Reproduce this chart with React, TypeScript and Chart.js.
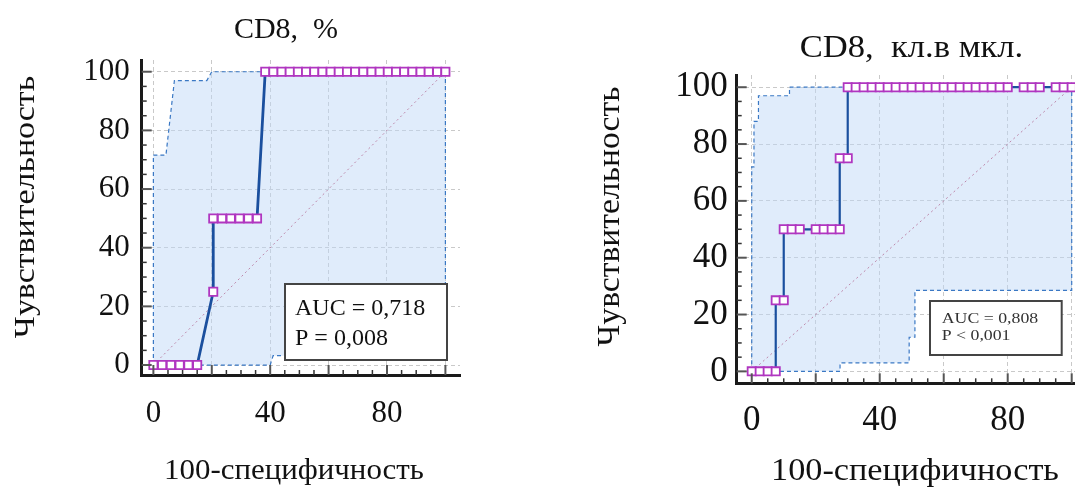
import React, { useEffect, useRef } from 'react';
import { Chart, registerables } from 'chart.js';

Chart.register(...registerables);

const FONT = "'Liberation Serif', 'Times New Roman', serif";

// Shared axis ticks
const gridValues = [0, 20, 40, 60, 80, 100];
const xLabelValues = [0, 40, 80];
const yLabelValues = [0, 20, 40, 60, 80, 100];
const diagonalX = [0, 100];
const diagonalY = [0, 100];

// ---------- Left panel: CD8, % ----------
const leftTitle = 'CD8,  %';
const leftStats = ['AUC = 0,718', 'P = 0,008'];
const leftRocX = [0, 3, 6, 9, 12, 15, 20.5, 20.5, 23.5, 26.5, 29.5, 32.5, 35.5, 38.3, 41.1, 43.9, 46.7, 49.5, 52.3, 55.1, 57.9, 60.7, 63.5, 66.3, 69.1, 71.9, 74.7, 77.5, 80.3, 83.1, 85.9, 88.7, 91.5, 94.3, 97.2, 100];
const leftRocY = [0, 0, 0, 0, 0, 0, 25, 50, 50, 50, 50, 50, 50, 100, 100, 100, 100, 100, 100, 100, 100, 100, 100, 100, 100, 100, 100, 100, 100, 100, 100, 100, 100, 100, 100, 100];
const leftCiX = [0, 0, 4.3, 7.2, 18.3, 20, 100, 100, 41, 40, 0];
const leftCiY = [0, 71.6, 71.6, 97, 97, 100, 100, 3.2, 3.2, 0, 0];

// ---------- Right panel: CD8, кл.в мкл. ----------
const rightTitle = 'CD8,  кл.в мкл.';
const rightStats = ['AUC = 0,808', 'P < 0,001'];
const rightRocX = [0, 2.5, 5, 7.5, 7.5, 10, 10, 12.5, 15, 20, 22.5, 25, 27.5, 27.5, 30, 30, 32.5, 35, 37.5, 40, 42.5, 45, 47.5, 50, 52.5, 55, 57.5, 60, 62.5, 65, 67.5, 70, 72.5, 75, 77.5, 80, 85, 87.5, 90, 95, 97.5, 100];
const rightRocY = [0, 0, 0, 0, 25, 25, 50, 50, 50, 50, 50, 50, 50, 75, 75, 100, 100, 100, 100, 100, 100, 100, 100, 100, 100, 100, 100, 100, 100, 100, 100, 100, 100, 100, 100, 100, 100, 100, 100, 100, 100, 100];
const rightCiX = [0, 0, 0.7, 0.7, 2.1, 2.1, 11.8, 11.8, 100, 100, 51, 51, 49.2, 49.2, 27.6, 27.6, 0];
const rightCiY = [0, 72, 72, 88, 88, 97, 97, 100, 100, 28.5, 28.5, 12, 12, 3, 3, 0, 0];

const xAxisTitle = '100-специфичность';
const yAxisTitle = 'Чувствительность';

type Pt = { x: number; y: number };
const zip = (xs: number[], ys: number[]): Pt[] => xs.map((x, i) => ({ x, y: ys[i] }));

type PanelCfg = {
  width: number;
  height: number;
  left: number;
  area: { left: number; top: number; right: number; bottom: number };
  xMin: number; xMax: number; yMin: number; yMax: number;
  tickFont: number; yTickPad: number; xTickPad: number;
  title: string; titleX: number; titleY: number; titleFont: number; titleScale: number;
  yTitleX: number; yTitleY: number; yTitleFont: number; yTitleScale: number;
  xTitleX: number; xTitleY: number; xTitleFont: number; xTitleScale: number;
  box: { x: number; y: number; w: number; h: number };
  stats: string[]; statFont: number; statX: number; statBase: number[]; statScaleX: number; statColor: string;
  rocX: number[]; rocY: number[]; ciX: number[]; ciY: number[];
  rocWidth: number;
};

const panels: PanelCfg[] = [
  {
    width: 540, height: 487, left: 0,
    area: { left: 141.7, top: 60, right: 460, bottom: 375 },
    xMin: -4, xMax: 105, yMin: -3.4, yMax: 104,
    tickFont: 31, yTickPad: 12, xTickPad: 20,
    title: leftTitle, titleX: 286, titleY: 38, titleFont: 30, titleScale: 1,
    yTitleX: 34, yTitleY: 207, yTitleFont: 30, yTitleScale: 1.13,
    xTitleX: 294, xTitleY: 479, xTitleFont: 30, xTitleScale: 1.03,
    box: { x: 285, y: 284, w: 162, h: 76 },
    stats: leftStats, statFont: 24, statX: 295, statBase: [315, 345], statScaleX: 1, statColor: '#111',
    rocX: leftRocX, rocY: leftRocY, ciX: leftCiX, ciY: leftCiY,
    rocWidth: 2.8,
  },
  {
    width: 560, height: 487, left: 540,
    area: { left: 196.7, top: 75, right: 547.7, bottom: 383.3 },
    xMin: -4.7, xMax: 105, yMin: -4.2, yMax: 104.3,
    tickFont: 35, yTickPad: 9, xTickPad: 17,
    title: rightTitle, titleX: 371.5, titleY: 57, titleFont: 32, titleScale: 1.08,
    yTitleX: 79, yTitleY: 216.5, yTitleFont: 32, yTitleScale: 1.05,
    xTitleX: 375, xTitleY: 480, xTitleFont: 32, xTitleScale: 1.07,
    box: { x: 390, y: 301, w: 131.7, h: 54 },
    stats: rightStats, statFont: 14, statX: 401.7, statBase: [323, 340], statScaleX: 1.27, statColor: '#333',
    rocX: rightRocX, rocY: rightRocY, ciX: rightCiX, ciY: rightCiY,
    rocWidth: 2.2,
  },
];

function makeDecor(p: PanelCfg) {
  return {
    id: 'decor',
    afterDraw(chart: any) {
      const ctx: CanvasRenderingContext2D = chart.ctx;
      const xs = chart.scales.x;
      const ys = chart.scales.y;
      const ca = chart.chartArea;
      ctx.save();
      // inside tick marks
      for (let v = 0; v <= 100; v += 5) {
        const major = v % 20 === 0;
        ctx.strokeStyle = major ? '#555' : '#333';
        ctx.lineWidth = major ? 2 : 1.5;
        const len = major ? 10 : 5;
        const px = xs.getPixelForValue(v);
        ctx.beginPath();
        ctx.moveTo(px, ca.bottom);
        ctx.lineTo(px, ca.bottom - len);
        ctx.stroke();
        const py = ys.getPixelForValue(v);
        ctx.beginPath();
        ctx.moveTo(ca.left, py);
        ctx.lineTo(ca.left + len, py);
        ctx.stroke();
      }
      ctx.fillStyle = '#111';
      ctx.textAlign = 'center';
      ctx.textBaseline = 'alphabetic';
      // title
      ctx.save();
      ctx.translate(p.titleX, p.titleY);
      ctx.scale(p.titleScale, 1);
      ctx.font = `${p.titleFont}px ${FONT}`;
      ctx.fillText(p.title, 0, 0);
      ctx.restore();
      // x title
      ctx.save();
      ctx.translate(p.xTitleX, p.xTitleY);
      ctx.scale(p.xTitleScale, 1);
      ctx.font = `${p.xTitleFont}px ${FONT}`;
      ctx.fillText(xAxisTitle, 0, 0);
      ctx.restore();
      // y title
      ctx.save();
      ctx.translate(p.yTitleX, p.yTitleY);
      ctx.rotate(-Math.PI / 2);
      ctx.scale(p.yTitleScale, 1);
      ctx.font = `${p.yTitleFont}px ${FONT}`;
      ctx.fillText(yAxisTitle, 0, 0);
      ctx.restore();
      // stats box
      ctx.fillStyle = '#fff';
      ctx.fillRect(p.box.x, p.box.y, p.box.w, p.box.h);
      ctx.strokeStyle = '#444';
      ctx.lineWidth = 2;
      ctx.strokeRect(p.box.x, p.box.y, p.box.w, p.box.h);
      ctx.fillStyle = p.statColor;
      ctx.textAlign = 'left';
      ctx.font = `${p.statFont}px ${FONT}`;
      p.stats.forEach((s, i) => {
        ctx.save();
        ctx.translate(p.statX, p.statBase[i]);
        ctx.scale(p.statScaleX, 1);
        ctx.fillText(s, 0, 0);
        ctx.restore();
      });
      ctx.restore();
    },
  };
}

function Panel({ p }: { p: PanelCfg }) {
  const ref = useRef<HTMLCanvasElement | null>(null);
  useEffect(() => {
    if (!ref.current) return;
    const chart = new Chart(ref.current, {
      type: 'scatter',
      data: {
        datasets: [
          {
            data: zip(p.rocX, p.rocY),
            showLine: true,
            borderColor: '#1a4f9e',
            borderWidth: p.rocWidth,
            pointStyle: 'rect',
            pointRadius: 5.8,
            pointBackgroundColor: '#ffffff',
            pointBorderColor: '#b036c0',
            pointBorderWidth: 1.8,
            order: 1,
          } as any,
          {
            data: zip(diagonalX, diagonalY),
            showLine: true,
            borderColor: 'rgba(180,110,150,0.8)',
            borderWidth: 1,
            borderDash: [2, 3],
            pointRadius: 0,
            order: 2,
          } as any,
          {
            data: zip(p.ciX, p.ciY),
            showLine: true,
            borderColor: '#3a78c4',
            borderWidth: 1.2,
            borderDash: [4, 3],
            backgroundColor: 'rgba(190,216,247,0.48)',
            fill: 'shape',
            pointRadius: 0,
            order: 3,
          } as any,
        ],
      },
      options: {
        animation: false,
        responsive: false,
        maintainAspectRatio: false,
        layout: {
          padding: { left: 0, top: p.area.top, right: p.width - p.area.right, bottom: 0 },
        },
        plugins: { legend: { display: false }, tooltip: { enabled: false }, title: { display: false } },
        scales: {
          x: {
            type: 'linear',
            min: p.xMin,
            max: p.xMax,
            afterBuildTicks: (s: any) => { s.ticks = gridValues.map((v) => ({ value: v })); },
            afterFit: (s: any) => { s.height = p.height - p.area.bottom; },
            ticks: {
              autoSkip: false,
              maxRotation: 0,
              padding: p.xTickPad,
              color: '#111',
              font: { family: FONT, size: p.tickFont },
              callback: (v: any) => (xLabelValues.includes(Number(v)) ? String(v) : ''),
            },
            grid: { color: '#c9c9c9', lineWidth: 1, drawTicks: false },
            border: { display: true, color: '#1a1a1a', width: 3, dash: [4, 3] },
          },
          y: {
            type: 'linear',
            min: p.yMin,
            max: p.yMax,
            afterBuildTicks: (s: any) => { s.ticks = gridValues.map((v) => ({ value: v })); },
            afterFit: (s: any) => { s.width = p.area.left; },
            ticks: {
              autoSkip: false,
              padding: p.yTickPad,
              color: '#111',
              font: { family: FONT, size: p.tickFont },
              callback: (v: any) => (yLabelValues.includes(Number(v)) ? String(v) : ''),
            },
            grid: { color: '#c9c9c9', lineWidth: 1, drawTicks: false },
            border: { display: true, color: '#1a1a1a', width: 3, dash: [4, 3] },
          },
        },
      } as any,
      plugins: [makeDecor(p)],
    });
    return () => chart.destroy();
  }, [p]);
  return (
    <canvas
      ref={ref}
      width={p.width}
      height={p.height}
      style={{ position: 'absolute', left: p.left, top: 0, width: p.width, height: p.height }}
    />
  );
}

export default function App() {
  return (
    <div
      style={{
        position: 'fixed',
        left: 0,
        top: 0,
        width: 1075,
        height: 487,
        overflow: 'hidden',
        background: '#ffffff',
      }}
    >
      {panels.map((p, i) => (
        <Panel key={i} p={p} />
      ))}
    </div>
  );
}
